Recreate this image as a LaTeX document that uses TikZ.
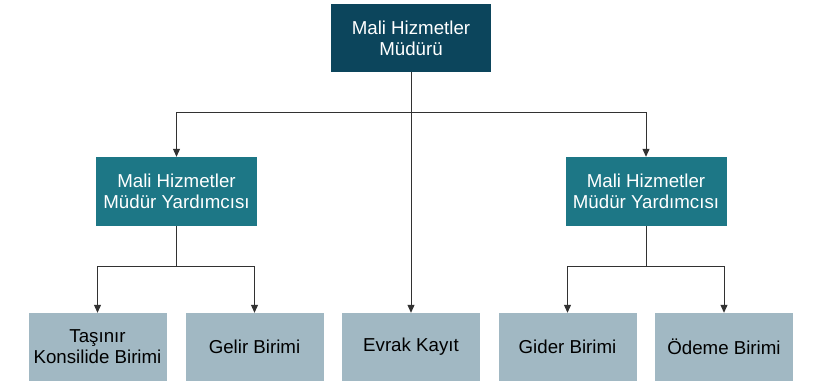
\documentclass[tikz,border=0pt]{standalone}
\usepackage{fontspec}
\setmainfont{Liberation Sans}
\usepackage{tikz}
\usetikzlibrary{arrows.meta,positioning,calc}
\definecolor{mudurc}{RGB}{12,69,92}
\definecolor{yrdc}{RGB}{29,119,134}
\definecolor{birimc}{RGB}{161,184,195}
\definecolor{hatc}{RGB}{50,50,50}

\begin{document}
\begin{tikzpicture}[x=1pt,y=1pt,
    kutu/.style={minimum width=138pt, minimum height=68pt, inner sep=0pt,
                 align=center, font=\fontsize{18.7}{21}\selectfont},
    ust/.style={kutu, fill=mudurc, text=white, minimum width=160pt},
    orta/.style={kutu, fill=yrdc, text=white, minimum width=161pt, minimum height=69pt},
    alt/.style={kutu, fill=birimc, text=black},
    hat/.style={draw=hatc, line width=1pt},
    ok/.style={hat, -{Triangle[width=7pt,length=8pt]}}]
  \useasboundingbox (0,0) rectangle (817,-381);

  \node[ust] (mudur) at (411,-38) {Mali Hizmetler\\Müdürü};
  \node[orta] (yrd1) at (176.5,-191.5) {Mali Hizmetler\\Müdür Yardımcısı};
  \node[orta] (yrd2) at (646,-191.5) {Mali Hizmetler\\Müdür Yardımcısı};

  \node[alt] (tasinir) at (97.5,-347) {Taşınır\\Konsilide Birimi};
  \node[alt] (gelir) at (254.5,-347) {Gelir Birimi};
  \node[alt] (evrak) at (411,-347) {Evrak Kayıt};
  \node[alt] (gider) at (567.5,-347) {Gider Birimi};
  \node[alt] (odeme) at (724,-347) {Ödeme Birimi};

  % baglantilar
  \coordinate (bus0) at (411,-112);
  \coordinate (bus1) at (176.5,-266);
  \coordinate (bus2) at (646,-266);

  \draw[ok] (mudur.south) -- (evrak.north);
  \draw[ok] (bus0) -| (yrd1.north);
  \draw[ok] (bus0) -| (yrd2.north);

  \draw[hat] (yrd1.south) -- (bus1);
  \draw[ok] (bus1) -| (tasinir.north);
  \draw[ok] (bus1) -| (gelir.north);

  \draw[hat] (yrd2.south) -- (bus2);
  \draw[ok] (bus2) -| (gider.north);
  \draw[ok] (bus2) -| (odeme.north);
\end{tikzpicture}
\end{document}
